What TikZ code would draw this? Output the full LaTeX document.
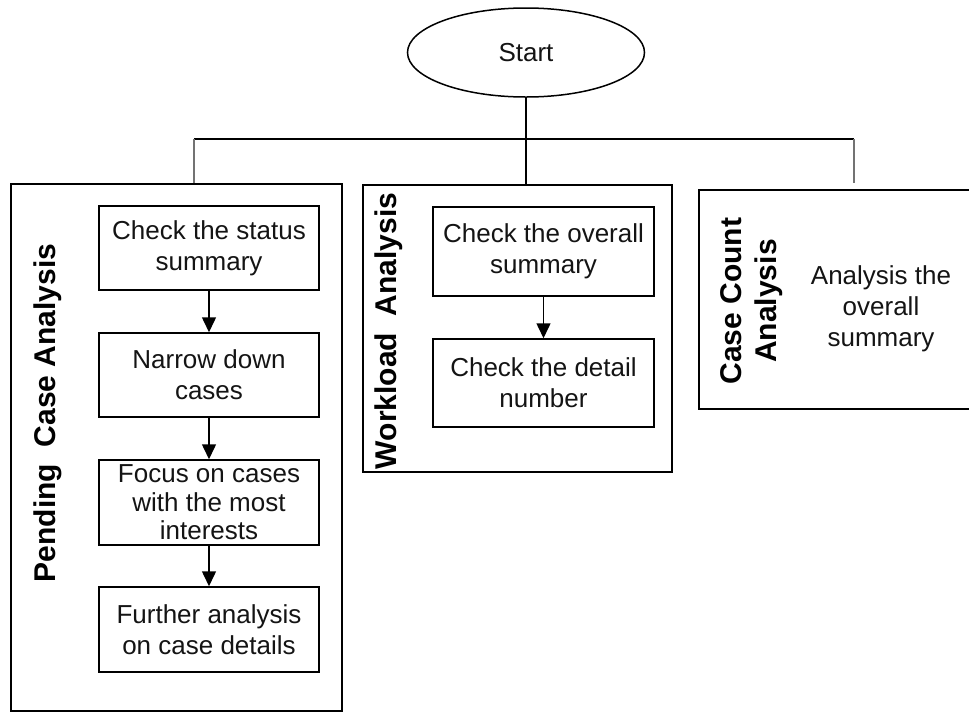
\documentclass[tikz,border=0pt]{standalone}
\usepackage{fontspec}
\setmainfont{Liberation Sans}
\usetikzlibrary{shapes.geometric,arrows.meta}
\begin{document}
\begin{tikzpicture}[x=1pt,y=-1pt,
  line width=1.5pt,
  body/.style={font=\fontsize{26}{31}\selectfont, text=black!92},
  lane/.style={draw, rectangle, inner sep=0pt},
  stepbox/.style={draw, rectangle, inner sep=0pt, minimum width=220pt, align=center, body},
  lanelabel/.style={rotate=90, font=\fontsize{30}{35}\bfseries\selectfont, align=center, inner sep=0pt},
  flow/.style={-{Triangle[width=14pt,length=15pt]}, line width=1.5pt},
  feed/.style={draw=black!55, line width=2pt}
]
\useasboundingbox (0,0) rectangle (969,713);

% start terminal
\node[draw, ellipse, minimum width=237pt, minimum height=89pt, inner sep=0pt, body] (start) at (526,52.5) {Start};

% swimlane frames
\node[lane, minimum width=331pt, minimum height=527pt] (pending) at (176.5,447.5) {};
\node[lane, minimum width=309pt, minimum height=287pt] (workload) at (517.5,328.5) {};
\node[lane, minimum width=290pt, minimum height=219pt] (count) at (844,299.5) {};

% lane titles
\node[lanelabel] (pendingT) at (48,413) {Pending\ \ Case Analysis};
\node[lanelabel] (workloadT) at (389,331) {Workload\ \ Analysis};
\node[lanelabel] (countT) at (752,301) {Case Count\\Analysis};

% pending case analysis steps
\node[stepbox, minimum height=84pt] (p1) at (209,248) {Check the status\\summary};
\node[stepbox, minimum height=84pt] (p2) at (209,375) {Narrow down\\cases};
\node[stepbox, minimum height=85pt, font=\fontsize{26}{28.5}\selectfont] (p3) at (209,502.5) {Focus on cases\\with the most\\interests};
\node[stepbox, minimum height=85pt] (p4) at (209,629.5) {Further analysis\\on case details};

% workload analysis steps
\node[stepbox, minimum width=221pt, minimum height=89pt] (w1) at (543.5,251.5) {Check the overall\\summary};
\node[stepbox, minimum width=221pt, minimum height=88pt] (w2) at (543.5,383) {Check the detail\\number};

% case count analysis text
\node[align=center, body, inner sep=0pt] (c1) at (881,309) {Analysis the\\overall\\summary};

% step arrows
\draw[flow] (p1) -- (p2);
\draw[flow] (p2) -- (p3);
\draw[flow] (p3) -- (p4);
\draw[flow] (w1) -- (w2);

% distribution bus
\coordinate (busL) at (194,139);
\coordinate (busR) at (854,139);
\coordinate (countStem) at (854,183);
\draw (busL) -- (busR);
\draw[line width=2.6pt] (start.south) -- (start.south |- workload.north);
\draw[feed] (busL) -- (busL |- pending.north);
\draw[feed] (busR) -- (countStem);
\end{tikzpicture}
\end{document}
